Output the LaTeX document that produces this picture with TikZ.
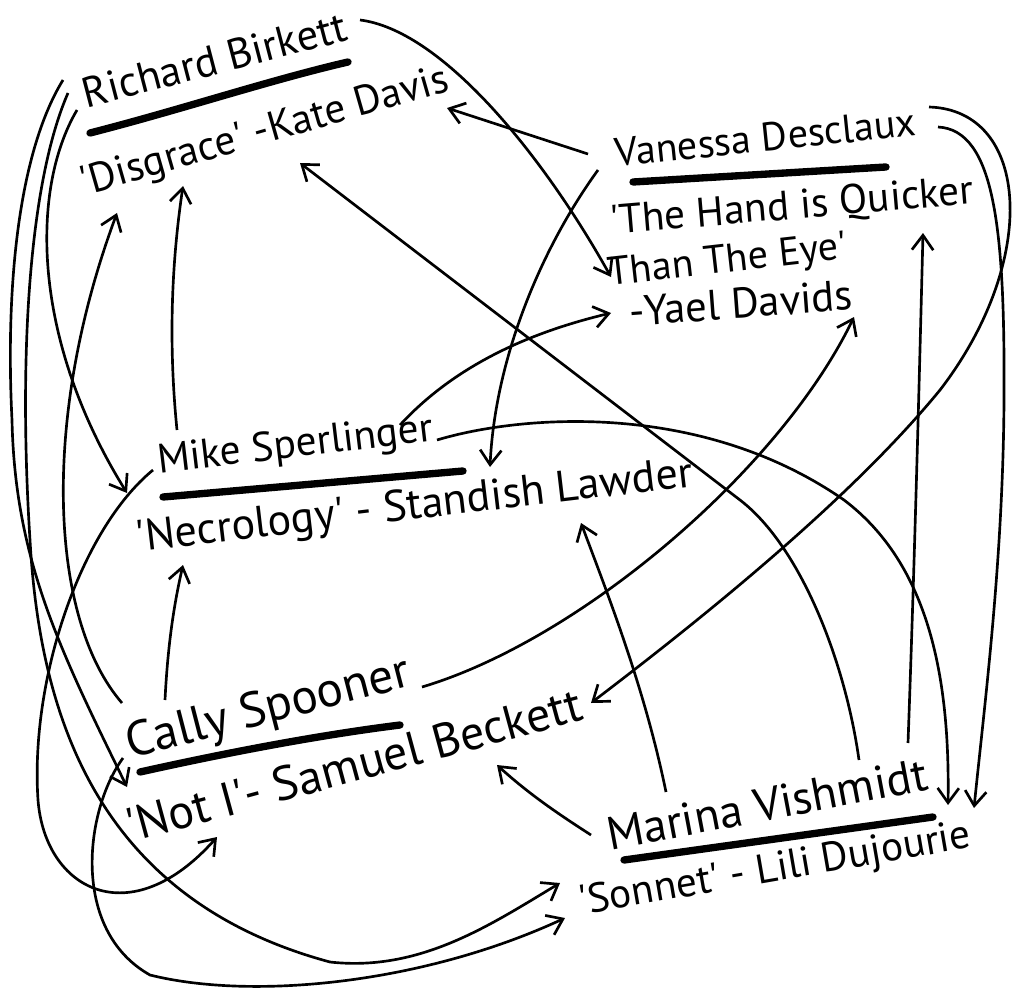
\documentclass[tikz,border=0pt]{standalone}
\usepackage{fontspec}
\setmainfont{PT Sans}
\usetikzlibrary{arrows.meta}
\newcommand{\tq}{\textquotesingle}

\tikzset{every picture/.style={line width=0.75pt}}
\tikzset{
  hand/.style={font=\fontsize{#1}{#1}\selectfont, inner sep=0pt, anchor=base},
  hand/.default=31,
  link/.style={line width=2pt, -{Straight Barb[length=11pt,width=16pt,line width=2pt]}},
  bar/.style={line width=5.5pt, line cap=round},
}

\begin{document}
\begin{tikzpicture}[x=0.75pt,y=0.75pt,yscale=-1,xscale=1]
\useasboundingbox (0,0) rectangle (1023,991);

% Text Node
\draw (218,74) node [hand=32, rotate=14.6] (rbname) {Richard Birkett};
% Text Node
\draw (268,143) node [hand=31, rotate=16] (rbwork) {\tq Disgrace\tq\ -Kate Davis};
% Text Node
\draw (767,151) node [hand=30, rotate=5.9] (vdname) {Vanessa Desclaux};
% Text Node
\draw (793,219) node [hand=31, rotate=4.8] (vdworka) {\tq The Hand is Quicker};
% Text Node
\draw (729,272) node [hand=30, rotate=6.5] (vdworkb) {Than The Eye\tq};
% Text Node
\draw (742,318) node [hand=32, rotate=4.3] (vdworkc) {-Yael Davids};
% Text Node
\draw (297,457) node [hand=31, rotate=6.8] (msname) {Mike Sperlinger};
% Text Node
\draw (416,519) node [hand=33, rotate=6.7] (mswork) {\tq Necrology\tq\ - Standish Lawder};
% Text Node
\draw (272,722) node [hand=37, rotate=14.5] (csname) {Cally Spooner};
% Text Node
\draw (358,781) node [hand=36, rotate=15.2] (cswork) {\tq Not I\tq - Samuel Beckett};
% Text Node
\draw (770,820) node [hand=35, rotate=10.7] (mvname) {Marina Vishmidt};
% Text Node
\draw (777,881) node [hand=31, rotate=9.8] (mvwork) {\tq Sonnet\tq\ - Lili Dujourie};

%Underlines
\draw [bar] (90,133) .. controls (180,110) and (270,80) .. (348,62) ;
\draw [bar] (633,182) -- (886,167) ;
\draw [bar] (163,497) -- (463,471) ;
\draw [bar] (140,772) .. controls (230,752) and (320,735) .. (400,725) ;
\draw [bar] (624,860) -- (933,817) ;

% ports: Richard Birkett
\coordinate (rb-a) at (360,20);
\coordinate (rb-b) at (63,80);
\coordinate (rb-c) at (68,93);
\coordinate (rb-d) at (77,110);
\coordinate (dis-a) at (447,108);
\coordinate (dis-b) at (300,163);
\coordinate (dis-c) at (183,186);
\coordinate (dis-d) at (117,213);
% ports: Vanessa Desclaux
\coordinate (vd-a) at (588,154);
\coordinate (vd-b) at (598,170);
\coordinate (vd-c) at (929,107);
\coordinate (vd-d) at (938,127);
\coordinate (hand-a) at (611,277);
\coordinate (hand-b) at (611,313);
\coordinate (hand-c) at (854,317);
\coordinate (hand-d) at (923,233);
% ports: Mike Sperlinger
\coordinate (ms-a) at (177,430);
\coordinate (ms-b) at (400,425);
\coordinate (ms-c) at (437,440);
\coordinate (ms-d) at (153,470);
\coordinate (ms-in) at (127,493);
\coordinate (nec-a) at (490,467);
\coordinate (nec-b) at (183,565);
\coordinate (nec-c) at (581,523);
% ports: Cally Spooner
\coordinate (cs-a) at (122,703);
\coordinate (cs-b) at (165,700);
\coordinate (cs-c) at (422,687);
\coordinate (cs-d) at (123,758);
\coordinate (not-a) at (127,787);
\coordinate (not-b) at (217,837);
\coordinate (not-c) at (497,765);
\coordinate (not-d) at (591,703);
% ports: Marina Vishmidt
\coordinate (mv-a) at (591,835);
\coordinate (mv-b) at (666,792);
\coordinate (mv-c) at (859,760);
\coordinate (mv-d) at (908,743);
\coordinate (son-a) at (560,883);
\coordinate (son-b) at (565,918);
\coordinate (son-c) at (948,805);
\coordinate (son-d) at (974,808);

%Curve Lines: from Richard Birkett
\draw [link] (rb-a) .. controls (440,30) and (540,150) .. (hand-a) ;
\draw [link] (rb-b) .. controls (20,150) and (5,280) .. (12,420) .. controls (15,560) and (60,650) .. (not-a) ;
\draw [link] (rb-c) .. controls (30,180) and (18,350) .. (30,540) .. controls (40,720) and (100,900) .. (330,962) .. controls (420,972) and (490,925) .. (son-a) ;
\draw [link] (rb-d) .. controls (30,190) and (32,340) .. (ms-in) ;
%Curve Lines: from Vanessa Desclaux
\draw [link] (vd-a) -- (dis-a) ;
\draw [link] (vd-b) .. controls (540,250) and (495,360) .. (nec-a) ;
\draw [link] (vd-c) .. controls (1030,110) and (1040,260) .. (940,390) .. controls (850,500) and (700,620) .. (not-d) ;
\draw [link] (vd-d) .. controls (995,130) and (1005,230) .. (1004,400) .. controls (1003,560) and (985,700) .. (son-d) ;
%Curve Lines: from Mike Sperlinger
\draw [link] (ms-a) .. controls (168,340) and (172,260) .. (dis-c) ;
\draw [link] (ms-b) .. controls (460,360) and (540,330) .. (hand-b) ;
\draw [link] (ms-c) .. controls (520,415) and (700,400) .. (844,500) .. controls (930,565) and (950,680) .. (son-c) ;
\draw [link] (ms-d) .. controls (80,530) and (30,680) .. (38,800) .. controls (45,890) and (130,935) .. (not-b) ;
%Curve Lines: from Cally Spooner
\draw [link] (cs-a) .. controls (50,620) and (40,420) .. (dis-d) ;
\draw [link] (cs-b) .. controls (168,640) and (175,600) .. (nec-b) ;
\draw [link] (cs-c) .. controls (580,640) and (780,470) .. (hand-c) ;
\draw [link] (cs-d) .. controls (85,810) and (70,930) .. (150,975) .. controls (250,1000) and (420,985) .. (son-b) ;
%Curve Lines: from Marina Vishmidt
\draw [link] (mv-a) .. controls (560,815) and (530,795) .. (not-c) ;
\draw [link] (mv-b) .. controls (645,690) and (610,600) .. (nec-c) ;
\draw [link] (mv-c) .. controls (845,660) and (800,546) .. (740,500) -- (dis-b) ;
\draw [link] (mv-d) .. controls (915,550) and (920,350) .. (hand-d) ;

\end{tikzpicture}
\end{document}
